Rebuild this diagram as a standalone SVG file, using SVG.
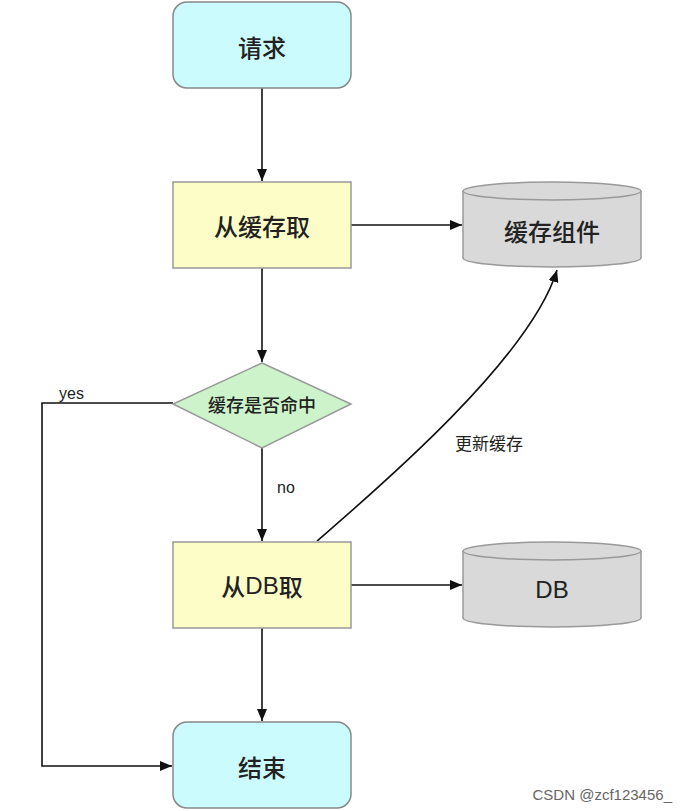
<svg xmlns="http://www.w3.org/2000/svg" width="687" height="811" viewBox="0 0 687 811">
<style>
.lbl{font-family:"Noto Sans CJK SC","Liberation Sans",sans-serif;fill:#222;text-anchor:middle;dominant-baseline:central;font-weight:500}
.reg{font-weight:400}
.lat{font-family:"Liberation Sans",sans-serif;font-weight:400}
.big{font-size:24px}
.mid{font-size:18px}
.sm{font-size:16px;font-family:"Liberation Sans","Noto Sans CJK SC",sans-serif;fill:#222}
.term{fill:#ccfbfd;stroke:#888;stroke-width:1.5}
.proc{fill:#fdfdc8;stroke:#999;stroke-width:1.5}
.cyl{fill:#d9d9d9;stroke:#999;stroke-width:1.5}
.dec{fill:#ccf3c9;stroke:#999;stroke-width:1.5}
.edge{fill:none;stroke:#111;stroke-width:1.6}
</style>
<defs>
<marker id="arr" viewBox="0 0 12 10" refX="12" refY="5" markerWidth="12" markerHeight="10" markerUnits="userSpaceOnUse" orient="auto">
<path d="M0,0 L12,5 L0,10 z" fill="#111"/>
</marker>
</defs>
<rect width="687" height="811" fill="#fff"/>
<g id="connectors">
<path class="edge" d="M262 88 V181" marker-end="url(#arr)"/>
<path class="edge" d="M351 225 H462" marker-end="url(#arr)"/>
<path class="edge" d="M262 268 V362" marker-end="url(#arr)"/>
<path class="edge" d="M262 448 V541" marker-end="url(#arr)"/>
<path class="edge" d="M173 403 H42 V766 H172" marker-end="url(#arr)"/>
<path class="edge" d="M351 585 H462" marker-end="url(#arr)"/>
<path class="edge" d="M262 628 V721" marker-end="url(#arr)"/>
<path class="edge" d="M317 541 C370 495 530 360 557 270" marker-end="url(#arr)"/>
<text class="sm" x="59" y="399">yes</text>
<text class="sm" x="277" y="493">no</text>
<text class="lbl reg" x="489" y="442" font-size="17">更新缓存</text>
</g>
<g id="n-request">
<rect class="term" x="173" y="2" width="178" height="86" rx="14"/>
<text class="lbl big" x="262" y="46">请求</text>
</g>
<g id="n-cache-get">
<rect class="proc" x="173" y="182" width="178" height="86"/>
<text class="lbl big" x="262" y="225">从缓存取</text>
</g>
<g id="n-cache">
<path class="cyl" d="M463 191 V258 A89 9 0 0 0 641 258 V191 A89 9 0 0 0 463 191 Z"/>
<path class="cyl" d="M463 191 A89 9 0 0 0 641 191" fill="none"/>
<text class="lbl big" x="552" y="230">缓存组件</text>
</g>
<g id="n-hit">
<polygon class="dec" points="262,363 351,404 262,448 173,404"/>
<text class="lbl mid" x="262" y="404">缓存是否命中</text>
</g>
<g id="n-db-get">
<rect class="proc" x="173" y="542" width="178" height="86"/>
<text class="lbl big" x="262" y="585">从<tspan class="lat">DB</tspan>取</text>
</g>
<g id="n-db">
<path class="cyl" d="M463 551 V618 A89 9 0 0 0 641 618 V551 A89 9 0 0 0 463 551 Z"/>
<path class="cyl" d="M463 551 A89 9 0 0 0 641 551" fill="none"/>
<text class="lbl big lat" x="552" y="589">DB</text>
</g>
<g id="n-end">
<rect class="term" x="173" y="722" width="178" height="86" rx="14"/>
<text class="lbl big" x="262" y="766">结束</text>
</g>
<text x="672" y="800" text-anchor="end" font-family="Liberation Sans Narrow,Liberation Sans,sans-serif" font-size="15" fill="#666">CSDN @zcf123456_</text>
</svg>
